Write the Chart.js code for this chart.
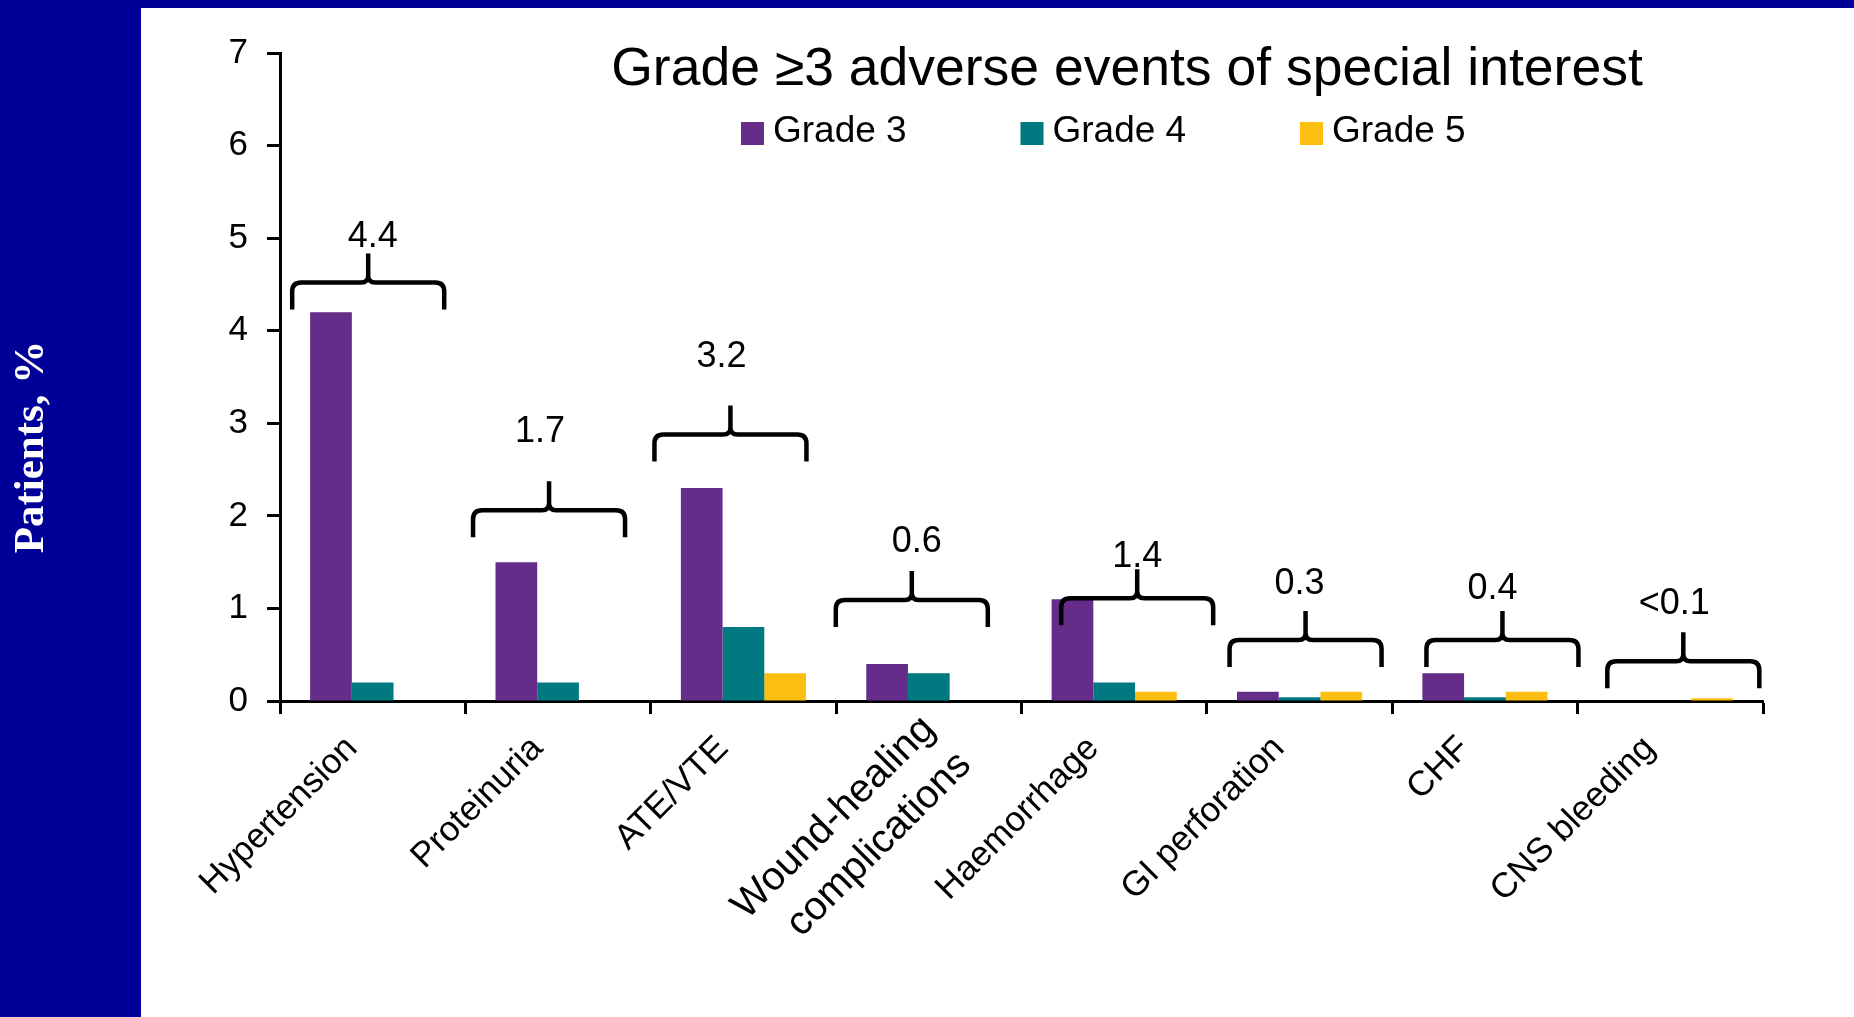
<!DOCTYPE html>
<html>
<head>
<meta charset="utf-8">
<script src="https://cdn.jsdelivr.net/npm/chart.js@4/dist/chart.umd.min.js"></script>
<style>
  html, body { margin: 0; padding: 0; background: #000099; overflow: hidden; }
  canvas { display: block; }
</style>
</head>
<body>
<canvas id="chart" width="1854" height="1017"></canvas>
<script>
// Event categories (two-line label for the wound-healing group)
const categories = ['Hypertension', 'Proteinuria', 'ATE/VTE', ['Wound-healing', 'complications'],
                    'Haemorrhage', 'GI perforation', 'CHF', 'CNS bleeding'];
// Patients (%) by grade
const grade3 = [4.2, 1.5, 2.3, 0.4, 1.1, 0.1, 0.3, 0];
const grade4 = [0.2, 0.2, 0.8, 0.3, 0.2, 0.04, 0.04, 0];
const grade5 = [0, 0, 0.3, 0, 0.1, 0.1, 0.1, 0.03];
// Grade >=3 totals written over each group
const totals = ['4.4', '1.7', '3.2', '0.6', '1.4', '0.3', '0.4', '<0.1'];
// Y-axis tick values
const yTicks = [0, 1, 2, 3, 4, 5, 6, 7];

const FONT = '"Liberation Sans", Arial, sans-serif';
Chart.defaults.font.family = FONT;

// White slide panel, y-axis caption, title and legend
const slidePlugin = {
  id: 'slide',
  beforeDraw(chart, args, o) {
    const ctx = chart.ctx;
    ctx.save();
    ctx.fillStyle = '#ffffff';
    ctx.fillRect(o.panelLeft, o.panelTop, chart.width - o.panelLeft, chart.height - o.panelTop);
    ctx.restore();
  },
  afterDraw(chart, args, o) {
    const ctx = chart.ctx;
    ctx.save();
    // rotated y-axis caption in the blue band
    ctx.translate(o.yTitleX, o.yTitleY);
    ctx.rotate(-Math.PI / 2);
    ctx.fillStyle = '#ffffff';
    ctx.font = 'bold 43px "Liberation Serif", "Times New Roman", serif';
    ctx.textAlign = 'center';
    ctx.textBaseline = 'middle';
    ctx.fillText('Patients, %', 0, 0);
    ctx.restore();

    ctx.save();
    ctx.fillStyle = '#000000';
    ctx.font = '53.5px ' + FONT;
    ctx.textAlign = 'center';
    ctx.textBaseline = 'alphabetic';
    ctx.fillText('Grade \u22653 adverse events of special interest', o.titleX, o.titleBaseline);

    // legend built from the datasets
    ctx.font = '37px ' + FONT;
    ctx.textAlign = 'left';
    chart.data.datasets.forEach((ds, i) => {
      const lx = o.legendX + i * o.legendStep;
      ctx.fillStyle = ds.backgroundColor;
      ctx.fillRect(lx, o.legendBoxTop, o.legendBox, o.legendBox);
      ctx.fillStyle = '#000000';
      ctx.fillText(ds.label, lx + o.legendBox + 9, o.legendBaseline);
    });
    ctx.restore();
  }
};

// Curly braces grouping each category, with the total above
const bracePlugin = {
  id: 'totalBraces',
  afterDatasetsDraw(chart, args, o) {
    const { ctx, scales: { x, y } } = chart;
    ctx.save();
    ctx.strokeStyle = '#000000';
    ctx.lineWidth = o.lineWidth;
    ctx.lineJoin = 'round';
    ctx.lineCap = 'butt';
    totals.forEach((txt, i) => {
      const xc = x.getPixelForValue(i) + o.shift[i];
      const yl = y.getPixelForValue(o.level[i]);
      const xl = xc - o.halfWidth, xr = xc + o.halfWidth;
      const r = o.corner, c = o.curl;
      const yb = yl + o.drop, yt = yl - o.rise;
      ctx.beginPath();
      ctx.moveTo(xl, yb);
      ctx.lineTo(xl, yl + r);
      ctx.quadraticCurveTo(xl, yl, xl + r, yl);
      ctx.lineTo(xc - c, yl);
      ctx.quadraticCurveTo(xc, yl, xc, yl - c);
      ctx.lineTo(xc, yt);
      ctx.moveTo(xr, yb);
      ctx.lineTo(xr, yl + r);
      ctx.quadraticCurveTo(xr, yl, xr - r, yl);
      ctx.lineTo(xc + c, yl);
      ctx.quadraticCurveTo(xc, yl, xc, yl - c);
      ctx.stroke();

      ctx.fillStyle = '#000000';
      ctx.font = '36px ' + FONT;
      ctx.textAlign = 'center';
      ctx.textBaseline = 'middle';
      ctx.fillText(txt, xc + o.labelShift[i], y.getPixelForValue(o.labelLevel[i]));
    });
    ctx.restore();
  }
};

new Chart(document.getElementById('chart'), {
  type: 'bar',
  data: {
    labels: categories,
    datasets: [
      { label: 'Grade 3', data: grade3, backgroundColor: '#652d89' },
      { label: 'Grade 4', data: grade4, backgroundColor: '#007a80' },
      { label: 'Grade 5', data: grade5, backgroundColor: '#fdbe12' }
    ]
  },
  options: {
    responsive: false,
    animation: false,
    devicePixelRatio: 1,
    layout: { padding: { left: 141, top: 53, right: 91, bottom: 0 } },
    datasets: { bar: { categoryPercentage: 0.675, barPercentage: 1.0, borderWidth: 0 } },
    scales: {
      x: {
        z: 1,
        afterFit: (s) => { s.height = 316; },
        grid: { display: true, offset: true, drawOnChartArea: false, drawTicks: true,
                tickLength: 13, tickWidth: 3, color: '#000000' },
        border: { display: true, color: '#000000', width: 3 },
        ticks: {
          color: '#000000',
          // the two-line wound-healing label is set larger
          font: (c) => (Array.isArray(categories[c.index])
            ? { size: 40, lineHeight: 1.27 }
            : { size: 35, lineHeight: 1.4 }),
          // single-line labels sit a little further out along their slant
          callback: (v, i) => (Array.isArray(categories[i]) ? categories[i] : categories[i] + '   '),
          maxRotation: 45, minRotation: 45, autoSkip: false, padding: -9
        }
      },
      y: {
        z: 1,
        min: 0, max: 7,
        afterFit: (s) => { s.width = 139; },
        afterBuildTicks: (s) => { s.ticks = yTicks.map(v => ({ value: v })); },
        grid: { display: true, drawOnChartArea: false, drawTicks: true,
                tickLength: 13, tickWidth: 3, color: '#000000' },
        border: { display: true, color: '#000000', width: 3 },
        ticks: { color: '#000000', font: { size: 35 }, padding: 19 }
      }
    },
    plugins: {
      legend: { display: false },
      title: { display: false },
      tooltip: { enabled: false },
      slide: {
        panelLeft: 141, panelTop: 8,
        yTitleX: 32, yTitleY: 447,
        titleX: 1127, titleBaseline: 85,
        legendX: 741, legendStep: 279.5, legendBox: 23, legendBoxTop: 122, legendBaseline: 142
      },
      totalBraces: {
        lineWidth: 4.5, halfWidth: 76, drop: 27, rise: 29, corner: 9, curl: 7,
        level: [4.52, 2.06, 2.88, 1.09, 1.11, 0.66, 0.66, 0.43],
        labelLevel: [5.01, 2.90, 3.71, 1.72, 1.56, 1.26, 1.21, 1.05],
        shift: [-4.5, -9, -13, -17, 23, 6, 17.5, 13],
        labelShift: [4.5, -9, -9, 5, 0, -6, -10, -9]
      }
    }
  },
  plugins: [slidePlugin, bracePlugin]
});
</script>
</body>
</html>
